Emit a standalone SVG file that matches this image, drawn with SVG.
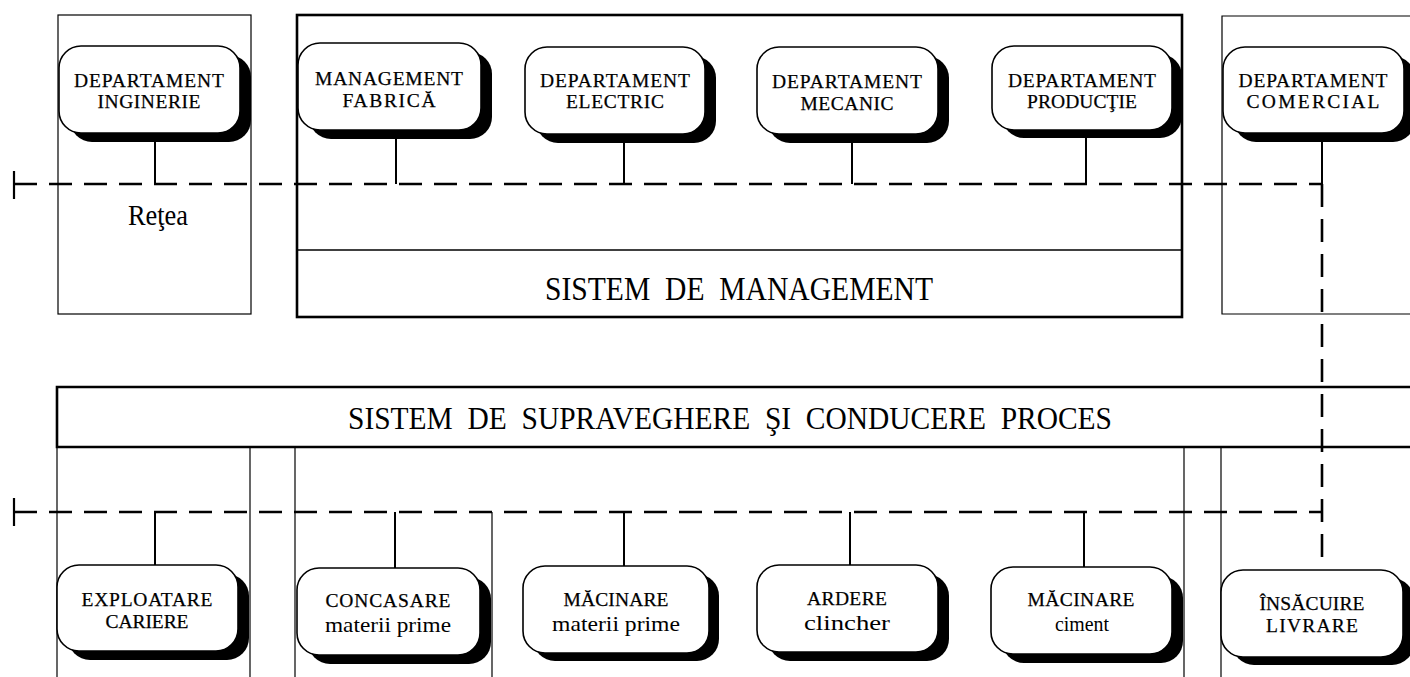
<svg xmlns="http://www.w3.org/2000/svg" width="1410" height="677" viewBox="0 0 1410 677">
  <style>
    .panel { fill: none; stroke: #000; stroke-width: 1.2; }
    .frame { fill: none; stroke: #000; stroke-width: 2.6; }
    .rule { stroke: #000; stroke-width: 1.6; }
    .shadow { fill: #000; stroke: none; }
    .box { fill: #fff; stroke: #000; stroke-width: 1.6; }
    .caps { font-family: "Liberation Serif", "Times New Roman", serif; font-size: 19.5px; fill: #000; text-anchor: middle; stroke: #000; stroke-width: 0.25; }
    .lower { font-family: "Liberation Serif", "Times New Roman", serif; font-size: 22px; fill: #000; text-anchor: middle; }
    .title { font-family: "Liberation Serif", "Times New Roman", serif; fill: #000; text-anchor: middle; }
    .net { fill: none; stroke: #000; stroke-width: 2.6; stroke-dasharray: 23 12; }
    .tap { stroke: #000; stroke-width: 2; fill: none; }
    .end { stroke: #000; stroke-width: 2.2; }
  </style>

  <rect x="0" y="0" width="1410" height="677" fill="#fff"/>

  <!-- upper zone: management level -->
  <g id="panel-inginerie">
    <rect class="panel" x="58" y="15" width="193" height="299"/>
    <text class="title" x="158" y="225" font-size="29" textLength="60" lengthAdjust="spacingAndGlyphs">Reţea</text>
  </g>

  <g id="sistem-management">
    <rect class="frame" x="297" y="15" width="885" height="302"/>
    <line class="rule" x1="297" y1="250" x2="1182" y2="250"/>
    <text class="title" x="739" y="300" font-size="33" textLength="388" lengthAdjust="spacingAndGlyphs">SISTEM&#160; DE&#160; MANAGEMENT</text>
  </g>

  <g id="panel-comercial">
    <path class="panel" d="M1412,16 H1222 V314 H1412"/>
  </g>

  <!-- lower zone: process level -->
  <g id="sistem-proces">
    <path class="frame" d="M1412,387 H57 V447 H1412"/>
    <text class="title" x="730" y="429" font-size="31" textLength="764" lengthAdjust="spacingAndGlyphs">SISTEM&#160; DE&#160; SUPRAVEGHERE&#160; ŞI&#160; CONDUCERE&#160; PROCES</text>
  </g>

  <g id="panels-proces">
    <line class="panel" x1="57" y1="447" x2="57" y2="677"/>
    <line class="panel" x1="250" y1="447" x2="250" y2="677"/>
    <line class="panel" x1="295" y1="447" x2="295" y2="677"/>
    <line class="panel" x1="492" y1="512" x2="492" y2="677"/>
    <line class="panel" x1="1184" y1="447" x2="1184" y2="677"/>
    <line class="panel" x1="1221" y1="447" x2="1221" y2="677"/>
  </g>

  <!-- networks and taps -->
  <g id="connectors">
    <line class="end" x1="14" y1="171" x2="14" y2="199"/>
    <line class="net" x1="14" y1="184" x2="1322" y2="184"/>
    <line class="end" x1="14" y1="498" x2="14" y2="526"/>
    <line class="net" x1="14" y1="512" x2="1321" y2="512"/>
    <line class="net" x1="1322" y1="184" x2="1322" y2="566"/>

    <line class="tap" x1="155" y1="142" x2="155" y2="184"/>
    <line class="tap" x1="396" y1="138" x2="396" y2="184"/>
    <line class="tap" x1="624" y1="142" x2="624" y2="184"/>
    <line class="tap" x1="852" y1="143" x2="852" y2="184"/>
    <line class="tap" x1="1086" y1="138" x2="1086" y2="184"/>
    <line class="tap" x1="1322" y1="142" x2="1322" y2="184"/>

    <line class="tap" x1="155" y1="512" x2="155" y2="565"/>
    <line class="tap" x1="395" y1="512" x2="395" y2="568"/>
    <line class="tap" x1="624" y1="512" x2="624" y2="566"/>
    <line class="tap" x1="850" y1="512" x2="850" y2="565"/>
    <line class="tap" x1="1084" y1="512" x2="1084" y2="567"/>
  </g>

  <!-- department nodes -->
  <g id="dep-inginerie">
    <rect class="shadow" x="70" y="55" width="181" height="87" rx="22"/>
    <rect class="box" x="59" y="46" width="181" height="87" rx="22"/>
    <text class="caps" x="149" y="87" textLength="150">DEPARTAMENT</text>
    <text class="caps" x="149" y="108" textLength="103">INGINERIE</text>
  </g>
  <g id="management-fabrica">
    <rect class="shadow" x="309" y="52" width="183" height="87" rx="22"/>
    <rect class="box" x="298" y="43" width="183" height="87" rx="22"/>
    <text class="caps" x="389" y="85" textLength="148">MANAGEMENT</text>
    <text class="caps" x="389" y="107" textLength="93">FABRICĂ</text>
  </g>
  <g id="dep-electric">
    <rect class="shadow" x="536" y="56" width="180" height="87" rx="22"/>
    <rect class="box" x="525" y="47" width="180" height="87" rx="22"/>
    <text class="caps" x="615" y="87" textLength="150">DEPARTAMENT</text>
    <text class="caps" x="615" y="108" textLength="98">ELECTRIC</text>
  </g>
  <g id="dep-mecanic">
    <rect class="shadow" x="768" y="56" width="181" height="87" rx="22"/>
    <rect class="box" x="757" y="47" width="181" height="87" rx="22"/>
    <text class="caps" x="847" y="88" textLength="150">DEPARTAMENT</text>
    <text class="caps" x="847" y="110" textLength="93">MECANIC</text>
  </g>
  <g id="dep-productie">
    <rect class="shadow" x="1002" y="54" width="180" height="84" rx="22"/>
    <rect class="box" x="992" y="46" width="180" height="84" rx="22"/>
    <text class="caps" x="1082" y="87" textLength="148">DEPARTAMENT</text>
    <text class="caps" x="1082" y="108" textLength="110">PRODUCŢIE</text>
  </g>
  <g id="dep-comercial">
    <rect class="shadow" x="1234" y="56" width="181" height="86" rx="22"/>
    <rect class="box" x="1223" y="47" width="181" height="86" rx="22"/>
    <text class="caps" x="1313" y="87" textLength="149">DEPARTAMENT</text>
    <text class="caps" x="1313" y="108" textLength="133">COMERCIAL</text>
  </g>

  <!-- process nodes -->
  <g id="exploatare-cariere">
    <rect class="shadow" x="68" y="574" width="181" height="86" rx="22"/>
    <rect class="box" x="57" y="565" width="181" height="86" rx="22"/>
    <text class="caps" x="147" y="606" textLength="131">EXPLOATARE</text>
    <text class="caps" x="147" y="628" textLength="83">CARIERE</text>
  </g>
  <g id="concasare">
    <rect class="shadow" x="308" y="577" width="183" height="87" rx="22"/>
    <rect class="box" x="297" y="568" width="183" height="87" rx="22"/>
    <text class="caps" x="388" y="607" textLength="125">CONCASARE</text>
    <text class="lower" x="388" y="632" textLength="126" lengthAdjust="spacingAndGlyphs">materii prime</text>
  </g>
  <g id="macinare-materii">
    <rect class="shadow" x="533" y="574" width="186" height="87" rx="22"/>
    <rect class="box" x="523" y="566" width="186" height="87" rx="22"/>
    <text class="caps" x="616" y="606" textLength="105">MĂCINARE</text>
    <text class="lower" x="616" y="631" textLength="128" lengthAdjust="spacingAndGlyphs">materii prime</text>
  </g>
  <g id="ardere-clincher">
    <rect class="shadow" x="768" y="574" width="181" height="87" rx="22"/>
    <rect class="box" x="757" y="565" width="181" height="87" rx="22"/>
    <text class="caps" x="847" y="605" textLength="80">ARDERE</text>
    <text class="lower" x="847" y="630" textLength="86" lengthAdjust="spacingAndGlyphs">clincher</text>
  </g>
  <g id="macinare-ciment">
    <rect class="shadow" x="1002" y="576" width="181" height="87" rx="22"/>
    <rect class="box" x="991" y="567" width="181" height="87" rx="22"/>
    <text class="caps" x="1081" y="606" textLength="107">MĂCINARE</text>
    <text class="lower" x="1082" y="631" textLength="54" lengthAdjust="spacingAndGlyphs">ciment</text>
  </g>
  <g id="insacuire-livrare">
    <rect class="shadow" x="1232" y="578" width="182" height="87" rx="22"/>
    <rect class="box" x="1221" y="570" width="182" height="87" rx="22"/>
    <text class="caps" x="1312" y="610" textLength="105">ÎNSĂCUIRE</text>
    <text class="caps" x="1312" y="632" textLength="92">LIVRARE</text>
  </g>
</svg>
